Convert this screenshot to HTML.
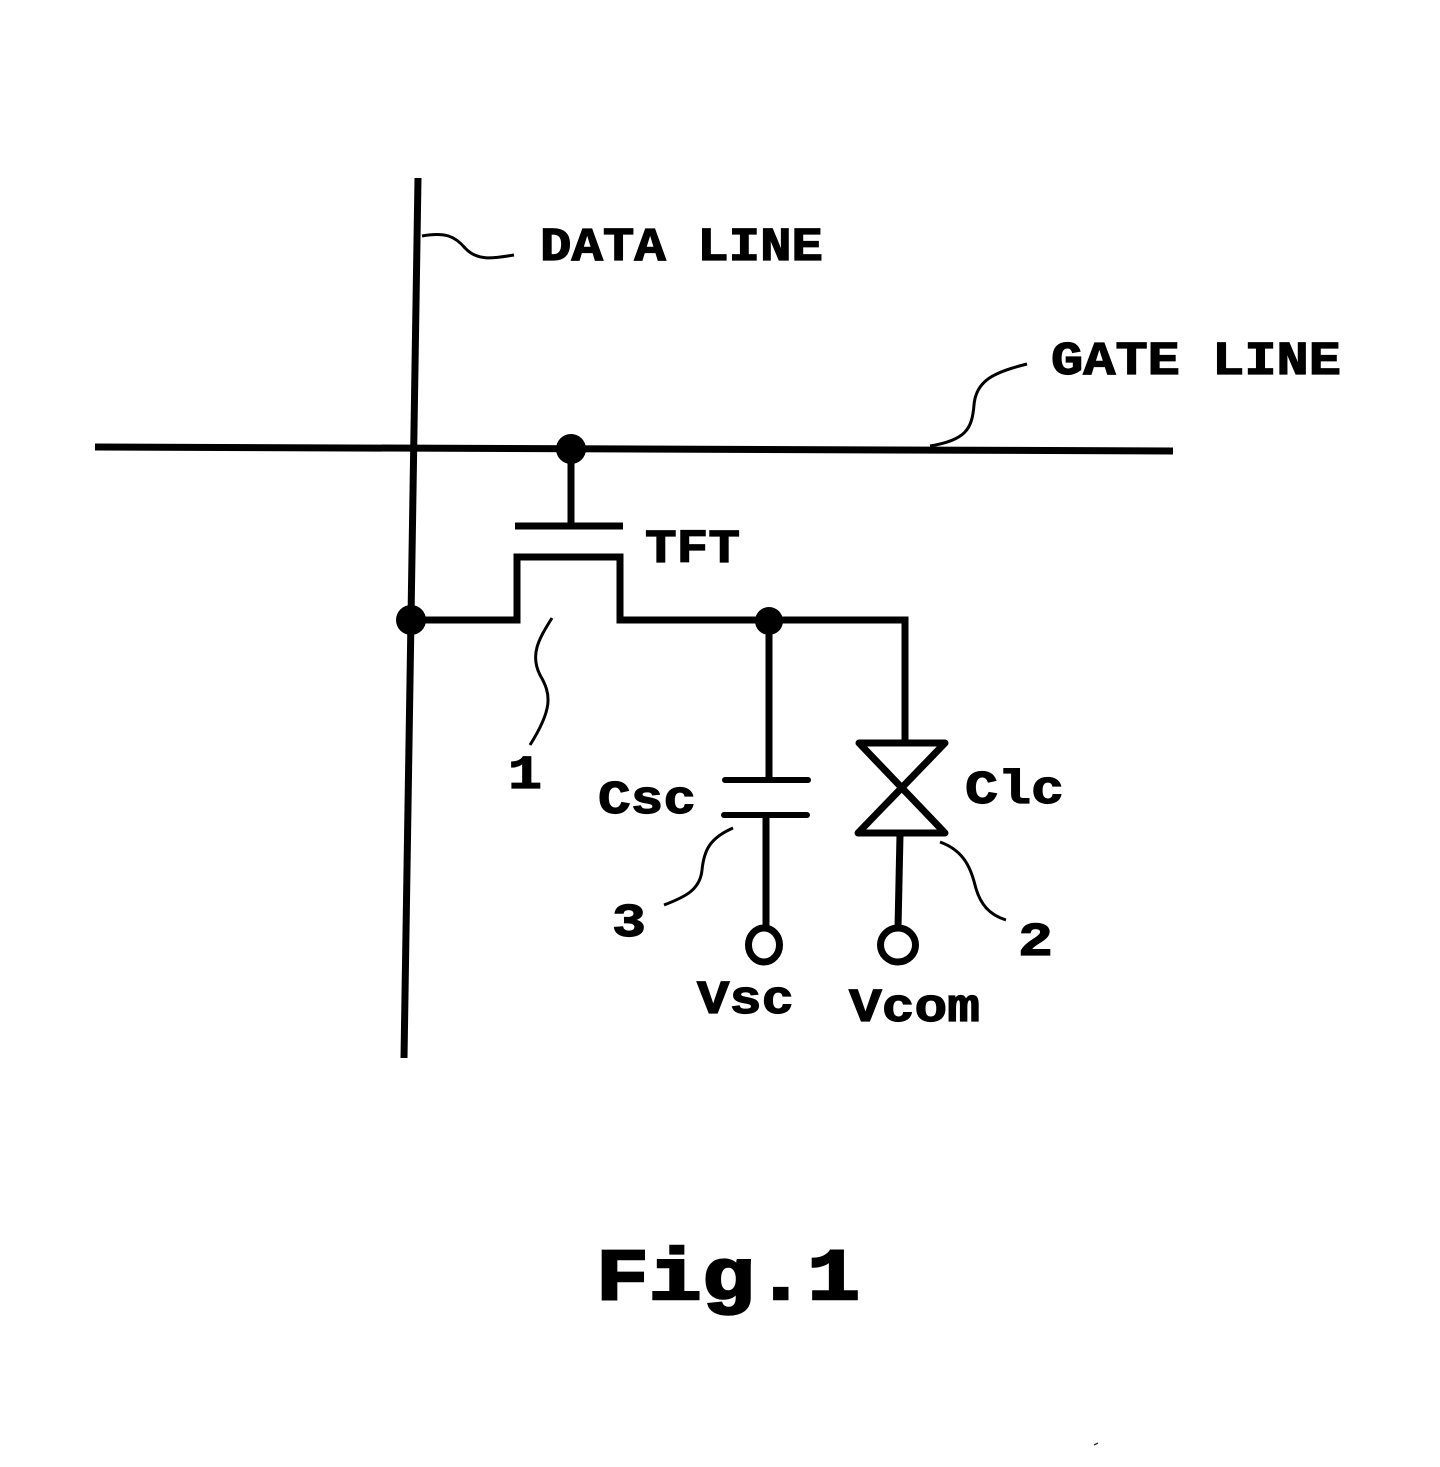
<!DOCTYPE html>
<html>
<head>
<meta charset="utf-8">
<style>
html,body{margin:0;padding:0;background:#fff;}
svg{display:block;}
text{font-family:"Liberation Mono",monospace;fill:#000;font-weight:bold;stroke:#000;stroke-width:1.2px;}
</style>
</head>
<body>
<svg width="1440" height="1467" viewBox="0 0 1440 1467" xmlns="http://www.w3.org/2000/svg">
<g fill="none" stroke="#000" stroke-width="7">
<path d="M418 178L404 1058"/>
<path d="M95 447L1173 451"/>
<path d="M571 450V526"/>
<path d="M515 526H623"/>
<path d="M411 620H517V557H620V620H905V742"/>
<path d="M769 620V778"/>
<path d="M725 780H808" stroke-linecap="round" stroke-width="6"/>
<path d="M724 815H807" stroke-linecap="round" stroke-width="6"/>
<path d="M766 816V928"/>
<path d="M859 743H945L858 833H945Z" stroke-linejoin="round"/>
<path d="M900 835L898 928"/>
<ellipse cx="764" cy="945" rx="15.5" ry="17"/>
<ellipse cx="898" cy="945" rx="17.5" ry="17"/>
</g>
<g fill="none" stroke="#000" stroke-width="3">
<path d="M422 236C445 232 455 236 465 248C478 262 495 258 514 255"/>
<path d="M930 446C965 440 972 430 974 405C976 380 995 372 1027 364"/>
<path d="M552 618C538 640 530 655 540 675C552 695 552 710 530 745"/>
<path d="M733 828C710 838 704 850 702 870C700 890 685 897 664 905"/>
<path d="M940 842C962 850 970 865 975 885C980 905 990 915 1006 920"/>
</g>
<g fill="#000">
<circle cx="571" cy="449" r="15"/>
<circle cx="411" cy="620" r="15"/>
<circle cx="769" cy="621" r="14"/>
</g>
<text x="540" y="260" font-size="47" textLength="283" lengthAdjust="spacingAndGlyphs">DATA LINE</text>
<text x="1051" y="374" font-size="47" textLength="290" lengthAdjust="spacingAndGlyphs">GATE LINE</text>
<text x="645" y="562" font-size="47" textLength="95" lengthAdjust="spacingAndGlyphs">TFT</text>
<text x="508" y="788" font-size="47" textLength="34" lengthAdjust="spacingAndGlyphs">1</text>
<text x="598" y="813" font-size="47" textLength="98" lengthAdjust="spacingAndGlyphs">Csc</text>
<text x="965" y="803" font-size="47" textLength="99" lengthAdjust="spacingAndGlyphs">Clc</text>
<text x="612" y="936" font-size="47" textLength="34" lengthAdjust="spacingAndGlyphs">3</text>
<text x="1018" y="955" font-size="47" textLength="35" lengthAdjust="spacingAndGlyphs">2</text>
<text x="697" y="1013" font-size="47" textLength="97" lengthAdjust="spacingAndGlyphs">Vsc</text>
<text x="849" y="1021" font-size="47" textLength="131" lengthAdjust="spacingAndGlyphs">Vcom</text>
<text x="596" y="1299" font-size="73" textLength="264" lengthAdjust="spacingAndGlyphs" style="stroke-width:2.5px">Fig.1</text>
<path d="M1094 1445l4-2" stroke="#333" stroke-width="1.5"/>
</svg>
</body>
</html>
